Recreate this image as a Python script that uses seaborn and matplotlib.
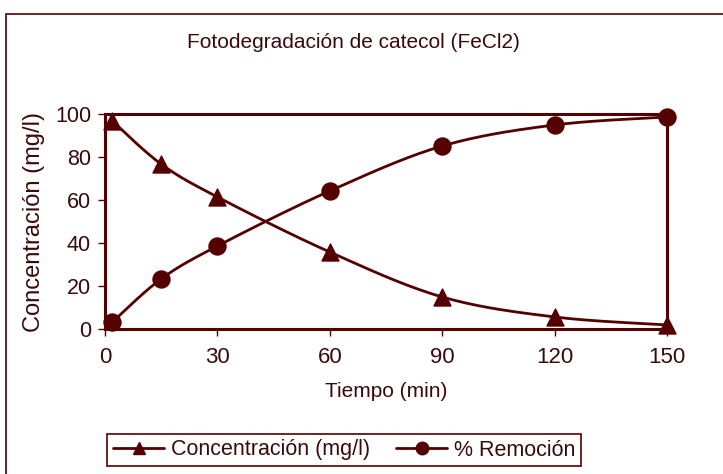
import numpy as np
import matplotlib
matplotlib.use("Agg")
import matplotlib.pyplot as plt
import matplotlib.patches as patches
import seaborn as sns

# Data
tiempo = [2, 15, 30, 60, 90, 120, 150]
concentracion = [96.7, 76.7, 61.4, 35.8, 14.9, 5.6, 1.9]
remocion = [3.3, 23.3, 38.6, 64.2, 85.1, 94.9, 98.6]

maroon = "#550000"
txt = "#3a0a0a"

sns.set_style("white")
plt.rcParams['font.family'] = ['Liberation Sans', 'DejaVu Sans']


def smooth(x, y, n=30):
    # Excel-like smoothed line (Catmull-Rom via cubic Bezier)
    x = np.asarray(x, float)
    y = np.asarray(y, float)
    xs, ys = [], []
    for i in range(len(x) - 1):
        p0 = np.array([x[max(i - 1, 0)], y[max(i - 1, 0)]])
        p1 = np.array([x[i], y[i]])
        p2 = np.array([x[i + 1], y[i + 1]])
        p3 = np.array([x[min(i + 2, len(x) - 1)], y[min(i + 2, len(x) - 1)]])
        c1 = p1 + (p2 - p0) / 6
        c2 = p2 - (p3 - p1) / 6
        t = np.linspace(0, 1, n)[:, None]
        pts = ((1 - t) ** 3) * p1 + 3 * ((1 - t) ** 2) * t * c1 + 3 * (1 - t) * t ** 2 * c2 + t ** 3 * p2
        xs.extend(pts[:, 0])
        ys.extend(pts[:, 1])
    return np.array(xs), np.array(ys)


fig = plt.figure(figsize=(7.23, 4.74), dpi=100)
ax = fig.add_axes([0.1452, 0.3059, 0.9225 - 0.1452, 0.7595 - 0.3059])

sx, sy = smooth(tiempo, concentracion)
ax.plot(sx, sy, color=maroon, lw=2, clip_on=False)
sx, sy = smooth(tiempo, remocion)
ax.plot(sx, sy, color=maroon, lw=2, clip_on=False)

sns.scatterplot(x=tiempo, y=concentracion, marker='^', s=150, color=maroon,
                edgecolor=maroon, ax=ax, clip_on=False, zorder=3)
sns.scatterplot(x=tiempo, y=remocion, marker='o', s=150, color=maroon,
                edgecolor=maroon, ax=ax, clip_on=False, zorder=3)

ax.set_xlim(0, 150)
ax.set_ylim(0, 100)
ax.set_xticks([0, 30, 60, 90, 120, 150])
ax.set_yticks([0, 20, 40, 60, 80, 100])
for s in ax.spines.values():
    s.set_color(maroon)
    s.set_linewidth(2.2)
ax.tick_params(axis='both', direction='out', length=5, width=1, color=maroon,
               labelcolor=txt, bottom=True, left=True)
ax.tick_params(axis='x', labelsize=16, pad=8)
ax.tick_params(axis='y', labelsize=15.5, pad=5)
ax.set_xlabel('Tiempo (min)', fontsize=15, color=txt, labelpad=10)
ax.set_ylabel('Concentración (mg/l)', fontsize=17, color=txt, labelpad=7)

fig.text(353 / 723, 1 - 43 / 474, 'Fotodegradación de catecol (FeCl2)', ha='center', va='center',
         fontsize=15, color=txt)

# outer border
fig.patches.append(patches.Rectangle((6 / 723, -0.02), 1.1, 1 - 14 / 474 + 0.02,
                                     transform=fig.transFigure, fill=False,
                                     edgecolor=maroon, lw=1.2))

h1 = plt.Line2D([], [], color=maroon, lw=2, marker='^', markersize=9)
h2 = plt.Line2D([], [], color=maroon, lw=2, marker='o', markersize=9)
leg = fig.legend([h1, h2], ['Concentración (mg/l)', '% Remoción'], loc='center',
                 bbox_to_anchor=(344 / 723, 1 - 450 / 474), ncol=2, fontsize=15.5,
                 frameon=True, fancybox=False, framealpha=1, handlelength=2.4,
                 columnspacing=1.2, handletextpad=0.3, borderpad=0.25)
leg.get_frame().set_edgecolor(maroon)
leg.get_frame().set_linewidth(1.2)
for t in leg.get_texts():
    t.set_color(txt)

fig.savefig('out.png', dpi=100)
